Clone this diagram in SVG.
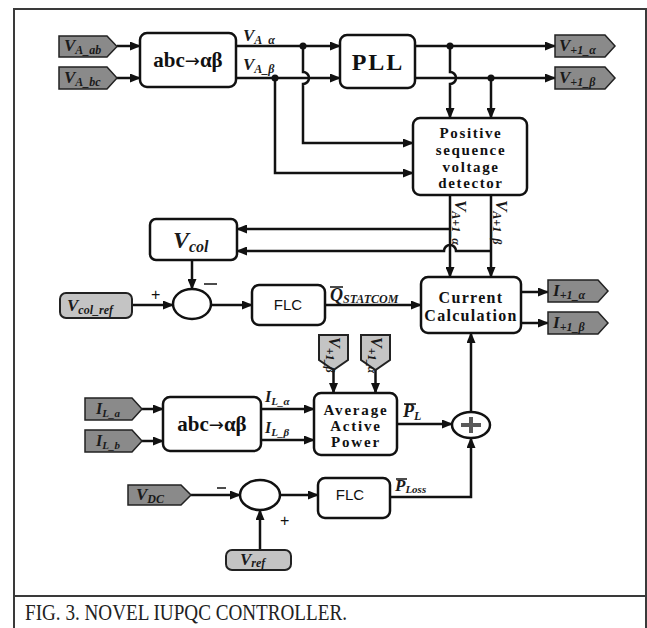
<svg xmlns="http://www.w3.org/2000/svg" width="647" height="628" viewBox="0 0 647 628">
<style>
.ln{fill:none;stroke:#111;stroke-width:2.5}
.box{fill:#fff;stroke:#111;stroke-width:2.5}
.tagd{fill:#8a8a8a;stroke:#222;stroke-width:1.5}
.tagl{fill:#c4c4c4;stroke:#222;stroke-width:2}
.bt{font-family:"Liberation Serif",serif;font-weight:bold;fill:#111;text-anchor:middle}
.it{font-family:"Liberation Serif",serif;font-weight:bold;font-style:italic;fill:#1a1a1a}
.sf{font-family:"Liberation Sans",sans-serif;fill:#111;text-anchor:middle;font-size:15px}
.sg{font-family:"Liberation Sans",sans-serif;fill:#111;font-size:16px}
.arw{font-family:"DejaVu Sans",sans-serif;font-weight:normal}
</style>
<defs>
<marker id="ar" markerUnits="userSpaceOnUse" markerWidth="11" markerHeight="9" refX="10" refY="4.5" orient="auto">
<path d="M0,0 L11,4.5 L0,9 z" fill="#111"/>
</marker>
</defs>
<rect width="647" height="628" fill="#fff"/>
<path d="M14,628 V9 H646 V628 M14,596 H646" fill="none" stroke="#3a3a3a" stroke-width="2"/>
<text x="25" y="620" font-family="Liberation Serif,serif" font-size="23" fill="#222" textLength="322" lengthAdjust="spacingAndGlyphs">FIG. 3. NOVEL IUPQC CONTROLLER.</text>

<g id="connectors">
<path class="ln" d="M117,46 H140" marker-end="url(#ar)"/>
<path class="ln" d="M117,78 H140" marker-end="url(#ar)"/>
<path class="ln" d="M236,46 H340" marker-end="url(#ar)"/>
<path class="ln" d="M236,78 H340" marker-end="url(#ar)"/>
<path class="ln" d="M415,46 H555" marker-end="url(#ar)"/>
<path class="ln" d="M415,78 H555" marker-end="url(#ar)"/>
<path class="ln" d="M303,46 V72 A6,6 0 0,1 303,84 V143 H413" marker-end="url(#ar)"/>
<path class="ln" d="M275,78 V173 H413" marker-end="url(#ar)"/>
<path class="ln" d="M450,46 V72 A6,6 0 0,1 450,84 V118" marker-end="url(#ar)"/>
<path class="ln" d="M491,78 V118" marker-end="url(#ar)"/>
<path class="ln" d="M450,195 V277" marker-end="url(#ar)"/>
<path class="ln" d="M491,195 V277" marker-end="url(#ar)"/>
<path class="ln" d="M450,229 H237" marker-end="url(#ar)"/>
<path class="ln" d="M491,251 H456 A6,6 0 0,0 444,251 H237" marker-end="url(#ar)"/>
<path class="ln" d="M192,260 V289" marker-end="url(#ar)"/>
<path class="ln" d="M132,305 H173" marker-end="url(#ar)"/>
<path class="ln" d="M211,305 H252" marker-end="url(#ar)"/>
<path class="ln" d="M325,305 H421" marker-end="url(#ar)"/>
<path class="ln" d="M521,292 H548" marker-end="url(#ar)"/>
<path class="ln" d="M521,323 H548" marker-end="url(#ar)"/>
<path class="ln" d="M142,409 H163" marker-end="url(#ar)"/>
<path class="ln" d="M142,441 H163" marker-end="url(#ar)"/>
<path class="ln" d="M261,409 H314" marker-end="url(#ar)"/>
<path class="ln" d="M261,440 H314" marker-end="url(#ar)"/>
<path class="ln" d="M333.5,370 V393" marker-end="url(#ar)"/>
<path class="ln" d="M375.5,370 V393" marker-end="url(#ar)"/>
<path class="ln" d="M397,424 H452" marker-end="url(#ar)"/>
<path class="ln" d="M471,412 V333" marker-end="url(#ar)"/>
<path class="ln" d="M390,497 H471 V438" marker-end="url(#ar)"/>
<path class="ln" d="M191,495 H240" marker-end="url(#ar)"/>
<path class="ln" d="M280,495 H318" marker-end="url(#ar)"/>
<path class="ln" d="M260,550 V510" marker-end="url(#ar)"/>
<circle cx="303" cy="46" r="3.5" fill="#111"/>
<circle cx="275" cy="78" r="3.5" fill="#111"/>
<circle cx="450" cy="46" r="3.5" fill="#111"/>
<circle cx="491" cy="78" r="3.5" fill="#111"/>
</g>

<g id="labels">
<text class="it" x="243" y="41" font-size="17">V<tspan font-size="12" dy="3">A_α</tspan></text>
<text class="it" x="243" y="70" font-size="17">V<tspan font-size="12" dy="3">A_β</tspan></text>
<text class="it" transform="translate(455,200) rotate(90)" font-size="17">V<tspan font-size="12" dy="3">A+1_α</tspan></text>
<text class="it" transform="translate(496,200) rotate(90)" font-size="17">V<tspan font-size="12" dy="3">A+1_β</tspan></text>
<text class="it" x="330" y="301" font-size="18">Q<tspan font-size="12" dy="2">STATCOM</tspan></text>
<path d="M330,287 H343" stroke="#111" stroke-width="1.5"/>
<text class="it" x="265" y="402" font-size="16">I<tspan font-size="11" dy="3">L_α</tspan></text>
<text class="it" x="265" y="433" font-size="16">I<tspan font-size="11" dy="3">L_β</tspan></text>
<text class="it" x="403" y="417" font-size="18">P<tspan font-size="12" dy="3">L</tspan></text>
<path d="M404,404 H416" stroke="#111" stroke-width="1.5"/>
<text class="it" x="395" y="491" font-size="17">P<tspan font-size="11" dy="2">Loss</tspan></text>
<path d="M396,479 H407" stroke="#111" stroke-width="1.5"/>
<text class="sg" x="151" y="300">+</text>
<path d="M204,284 H217" stroke="#111" stroke-width="1.5"/>
<path d="M217,488 H226" stroke="#111" stroke-width="1.5"/>
<text class="sg" x="280" y="526">+</text>
</g>

<g id="abc1"><rect class="box" x="140" y="33" width="96" height="54" rx="7"/><text class="bt" x="188" y="67" font-size="21">abc<tspan class="arw" font-size="18">→</tspan>αβ</text></g>
<g id="pll"><rect class="box" x="340" y="35" width="75" height="53" rx="7"/><text class="bt" x="378" y="70" font-size="24" letter-spacing="2">PLL</text></g>
<g id="psvd"><rect class="box" x="413" y="118" width="114" height="77" rx="7"/>
<text class="bt" font-size="15" letter-spacing="1.6"><tspan x="471" y="138">Positive</tspan><tspan x="471" y="155">sequence</tspan><tspan x="471" y="172">voltage</tspan><tspan x="471" y="188">detector</tspan></text></g>
<g id="vcol"><rect class="box" x="150" y="219" width="87" height="41" rx="6"/><text class="it" x="173" y="248" font-size="24">V<tspan font-size="16" dy="4">col</tspan></text></g>
<g id="sum1"><ellipse cx="192" cy="304" rx="19" ry="15" class="box"/></g>
<g id="vcolref"><rect class="tagl" x="60" y="293" width="72" height="25" rx="6"/><text class="it" x="67" y="311" font-size="17">V<tspan font-size="12" dy="3">col_ref</tspan></text></g>
<g id="flc1"><rect class="box" x="252" y="285" width="73" height="40" rx="7"/><text class="sf" x="288" y="310">FLC</text></g>
<g id="curcalc"><rect class="box" x="421" y="277" width="100" height="56" rx="7"/>
<text class="bt" font-size="16" letter-spacing="1.3"><tspan x="471" y="303">Current</tspan><tspan x="471" y="321">Calculation</tspan></text></g>
<g id="vA_ab"><path class="tagd" d="M59,36 H107 L117,46.5 L107,57 H59 Z"/><text class="it" x="64" y="51" font-size="17">V<tspan font-size="12" dy="3">A_ab</tspan></text></g>
<g id="vA_bc"><path class="tagd" d="M59,67 H107 L117,78 L107,89 H59 Z"/><text class="it" x="64" y="83" font-size="17">V<tspan font-size="12" dy="3">A_bc</tspan></text></g>
<g id="vp1a"><path class="tagd" d="M555,35 H605 L615,46 L605,57 H555 Z"/><text class="it" x="559" y="51" font-size="17">V<tspan font-size="12" dy="3">+1_α</tspan></text></g>
<g id="vp1b"><path class="tagd" d="M555,67 H605 L615,78 L605,89 H555 Z"/><text class="it" x="559" y="83" font-size="17">V<tspan font-size="12" dy="3">+1_β</tspan></text></g>
<g id="ip1a"><path class="tagd" d="M548,280 H598 L608,291 L598,302 H548 Z"/><text class="it" x="553" y="296" font-size="17">I<tspan font-size="12" dy="3">+1_α</tspan></text></g>
<g id="ip1b"><path class="tagd" d="M548,312 H598 L608,323 L598,334 H548 Z"/><text class="it" x="553" y="328" font-size="17">I<tspan font-size="12" dy="3">+1_β</tspan></text></g>
<g id="ila"><path class="tagd" d="M85,398 H132 L142,409 L132,420 H85 Z"/><text class="it" x="96" y="414" font-size="16">I<tspan font-size="11" dy="3">L_a</tspan></text></g>
<g id="ilb"><path class="tagd" d="M85,430 H132 L142,441 L132,452 H85 Z"/><text class="it" x="96" y="446" font-size="16">I<tspan font-size="11" dy="3">L_b</tspan></text></g>
<g id="abc2"><rect class="box" x="163" y="397" width="98" height="54" rx="7"/><text class="bt" x="212" y="431" font-size="21">abc<tspan class="arw" font-size="18">→</tspan>αβ</text></g>
<g id="vt1"><path class="tagl" d="M319,335 H348 V360 L333.5,370 L319,360 Z"/><text class="it" transform="translate(329,337) rotate(90)" font-size="16">V<tspan font-size="12" dy="3">+1_β</tspan></text></g>
<g id="vt2"><path class="tagl" d="M361,335 H390 V360 L375.5,370 L361,360 Z"/><text class="it" transform="translate(371,337) rotate(90)" font-size="16">V<tspan font-size="12" dy="3">+1_α</tspan></text></g>
<g id="aap"><rect class="box" x="314" y="393" width="83" height="62" rx="7"/>
<text class="bt" font-size="15" letter-spacing="1.8"><tspan x="356" y="415">Average</tspan><tspan x="356" y="431">Active</tspan><tspan x="356" y="447">Power</tspan></text></g>
<g id="plus"><ellipse cx="471" cy="425" rx="19" ry="13" class="box"/><path d="M461,425 H481 M471,417 V433" stroke="#5a5a5a" stroke-width="4"/></g>
<g id="vdc"><path class="tagd" d="M128,485 H181 L191,495 L181,505 H128 Z"/><text class="it" x="136" y="500" font-size="17">V<tspan font-size="12" dy="3">DC</tspan></text></g>
<g id="sum2"><ellipse cx="260" cy="495" rx="20" ry="15" class="box"/></g>
<g id="flc2"><rect class="box" x="318" y="478" width="72" height="40" rx="7"/><text class="sf" x="350" y="500">FLC</text></g>
<g id="vref"><rect class="tagl" x="226" y="550" width="65" height="20" rx="6"/><text class="it" x="240" y="565" font-size="17">V<tspan font-size="12" dy="2">ref</tspan></text></g>
</svg>
